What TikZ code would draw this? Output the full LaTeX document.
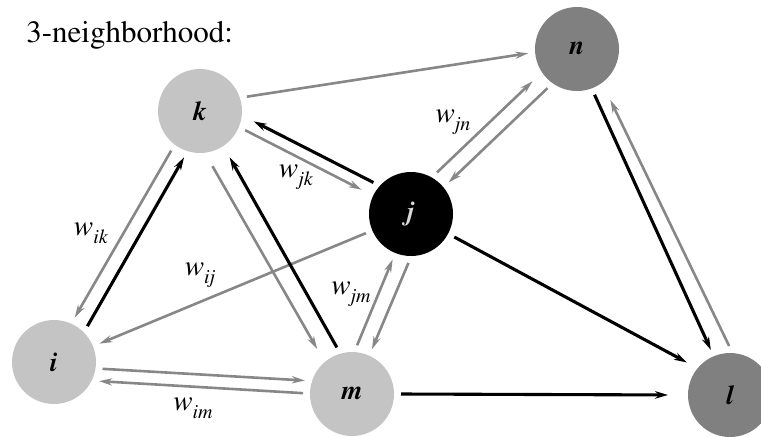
\documentclass[tikz,border=0pt]{standalone}
\usepackage[T1]{fontenc}
\usepackage{times}
\usetikzlibrary{arrows.meta}

\definecolor{lightnode}{gray}{0.77}
\definecolor{darknode}{gray}{0.50}
\definecolor{edgegray}{gray}{0.53}
\definecolor{hubtext}{gray}{0.85}

\tikzset{
  vtx/.style={circle, minimum size=42pt, inner sep=0pt, outer sep=3.5pt,
    font=\fontsize{13.5}{13.5}\selectfont\bfseries\itshape},
  light/.style={vtx, fill=lightnode},
  dark/.style={vtx, fill=darknode},
  hub/.style={vtx, fill=black, text=hubtext},
  gray edge/.style={draw=edgegray, line width=1.3pt,
    -{Stealth[length=6.5pt,width=3.6pt]}},
  black edge/.style={draw=black, line width=1.55pt,
    -{Stealth[length=6.5pt,width=3.8pt]}},
  wlabel/.style={font=\fontsize{14.5}{14.5}\selectfont, inner sep=0pt},
}
% weight label: italic w with a lowered italic subscript
\newcommand{\wlab}[1]{\textit{w}\raisebox{-4pt}{\fontsize{10}{10}\selectfont\textit{#1}}}

\begin{document}
\begin{tikzpicture}[x=0.5pt, y=-0.5pt]
  \useasboundingbox (0,0) rectangle (761,436);

  % title
  \node[anchor=base west, inner sep=0pt, font=\fontsize{15.5}{15.5}\selectfont]
    (title) at (26,42) {3-neighborhood:};

  % vertices
  \node[light] (k) at (200,111) {k};
  \node[dark]  (n) at (577,49)  {n};
  \node[hub]   (j) at (411,214) {j};
  \node[light] (i) at (54,362)  {i};
  \node[light] (m) at (352,394) {m};
  \node[dark]  (l) at (730,395) {l};

  % connectors between k, n and j
  \draw[gray edge] (k.17) -- (n.185);
  \draw[black edge, shorten >=3pt] (j.140) -- (k.-9);
  \draw[gray edge, shorten >=3pt] (k.-23) -- (j.154);
  \draw[gray edge, shorten >=3pt] (j.58) -- (n.-145);
  \draw[gray edge] (n.-127) -- (j.40);

  % connectors into l
  \draw[black edge] (n.-69) -- (l.113);
  \draw[gray edge, shorten >=6pt] (l.91) -- (n.-55);
  \draw[black edge, shorten >=2.5pt] (j.-28) -- (l.142.5);
  \draw[black edge, shorten >=6.5pt] (m.0) -- (l.180);

  % connectors around i
  \draw[gray edge] (j.-157) -- (i.22);
  \draw[gray edge] (k.-126) -- (i.65);
  \draw[black edge] (i.47) -- (k.-109);
  \draw[gray edge] (i.-8) -- (m.164);
  \draw[gray edge] (m.179) -- (i.-23);

  % connectors around m
  \draw[gray edge, shorten <=4pt, shorten >=4pt] (k.-80) -- (m.129);
  \draw[black edge, shorten >=3pt] (m.108) -- (k.-57);
  \draw[gray edge] (m.84) -- (j.-112);
  \draw[gray edge] (j.-93) -- (m.66);

  % weight labels
  \node[wlabel] (wjk) at (296,177) {\wlab{jk}};
  \node[wlabel] (wjn) at (453,122) {\wlab{jn}};
  \node[wlabel] (wik) at (91,233)  {\wlab{ik}};
  \node[wlabel] (wij) at (200,275) {\wlab{ij}};
  \node[wlabel] (wjm) at (351,294) {\wlab{jm}};
  \node[wlabel] (wim) at (193,408) {\wlab{im}};
\end{tikzpicture}
\end{document}
